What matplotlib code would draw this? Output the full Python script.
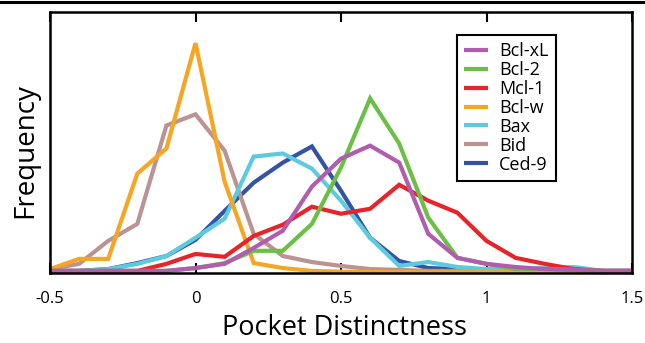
import matplotlib
matplotlib.use("Agg")
import matplotlib.pyplot as plt
from matplotlib.lines import Line2D

plt.rcParams['font.family'] = ['Open Sans', 'DejaVu Sans']

# Histogram bin centres (pocket distinctness)
pocket = [-0.5, -0.4, -0.3, -0.2, -0.1, 0.0, 0.1, 0.2, 0.3, 0.4, 0.5,
          0.6, 0.7, 0.8, 0.9, 1.0, 1.1, 1.2, 1.3, 1.4, 1.5]

# Relative frequency per protein (arbitrary units)
bcl_xl = [0.8, 0.8, 0.8, 0.8, 0.8, 1.9, 3.5, 9.6, 16.2, 33.1, 43.8,
          48.8, 42.3, 15.0, 5.8, 3.5, 2.3, 1.5, 1.2, 0.8, 0.8]
bcl_2 = [0.8, 0.8, 0.8, 0.8, 0.8, 1.9, 3.8, 8.5, 8.5, 18.8, 40.4,
         66.9, 49.6, 21.2, 5.8, 3.5, 1.5, 1.5, 1.2, 0.8, 0.8]
mcl_1 = [0.8, 0.8, 0.8, 0.8, 3.5, 7.3, 6.2, 14.2, 18.5, 25.4, 22.7,
         24.6, 33.8, 27.7, 23.1, 12.3, 5.8, 3.5, 1.5, 0.8, 0.8]
bcl_w = [1.5, 5.4, 5.4, 38.1, 47.7, 88.1, 35.0, 3.8, 1.9, 0.8, 0.5,
         0.4, 0.3, 0.3, 0.3, 0.3, 0.3, 0.3, 0.3, 0.3, 0.3]
bax = [0.8, 0.8, 1.5, 3.5, 6.5, 13.5, 20.8, 44.6, 45.8, 40.0, 27.7,
       13.5, 2.7, 4.2, 2.3, 1.5, 1.5, 1.9, 2.3, 0.8, 0.4]
bid = [1.5, 3.5, 12.3, 18.8, 56.5, 60.8, 46.9, 15.0, 6.5, 4.2, 2.7,
       1.5, 1.2, 0.8, 0.8, 0.8, 0.8, 0.8, 0.8, 0.8, 0.8]
ced_9 = [0.8, 0.8, 1.5, 3.8, 6.5, 12.7, 23.8, 34.6, 42.3, 48.5, 31.5,
         13.5, 4.6, 1.9, 1.5, 1.2, 1.5, 1.5, 1.2, 0.8, 0.8]

names = ['Bcl-xL', 'Bcl-2', 'Mcl-1', 'Bcl-w', 'Bax', 'Bid', 'Ced-9']
series = [bcl_xl, bcl_2, mcl_1, bcl_w, bax, bid, ced_9]
colors = ['#b15cb0', '#6cbf45', '#e8232a', '#f7a623', '#5ccbe0',
          '#bb9393', '#3453a4']

xticks = [-0.5, 0, 0.5, 1, 1.5]
xtick_labels = ['-0.5', '0', '0.5', '1', '1.5']

fig = plt.figure(figsize=(6.45, 3.43), dpi=100)
ax = fig.add_axes([50 / 645, 1 - 273 / 343, 582 / 645, 261 / 343])

# Draw in reverse so the first-listed proteins sit on top
for name, vals, col in list(zip(names, series, colors))[::-1]:
    ax.plot(pocket, vals, color=col, lw=3.0, label=name,
            solid_joinstyle='miter', solid_capstyle='butt')

ax.set_xlim(-0.5, 1.5)
ax.set_ylim(0, 100)
ax.set_xticks(xticks)
ax.set_xticklabels(xtick_labels, fontsize=12)
ax.set_yticks([])
ax.tick_params(axis='x', direction='in', length=7.5, width=1.5,
               top=True, bottom=True, pad=13)
for sp in ax.spines.values():
    sp.set_linewidth(1.8)

ax.set_xlabel('Pocket Distinctness', fontsize=19.5)
ax.xaxis.set_label_coords(0.506, -0.157)
ax.set_ylabel('Frequency', fontsize=20)
ax.yaxis.set_label_coords(-0.018, 0.471)

handles, labels = ax.get_legend_handles_labels()
order = [labels.index(n) for n in names]
leg = ax.legend([handles[i] for i in order], [labels[i] for i in order],
                loc='upper left', bbox_to_anchor=(0.699, 0.912),
                borderaxespad=0, fontsize=13, handlelength=1.35,
                handletextpad=0.6, labelspacing=0.05, fancybox=False,
                framealpha=1, borderpad=0.4)
leg.get_frame().set_edgecolor('black')
leg.get_frame().set_linewidth(1.5)

# Rule across the top edge of the figure
fig.add_artist(Line2D([0, 1], [1 - 1.5 / 343, 1 - 1.5 / 343],
                      color='black', lw=2.2, transform=fig.transFigure))

fig.savefig('out.png', dpi=100)
